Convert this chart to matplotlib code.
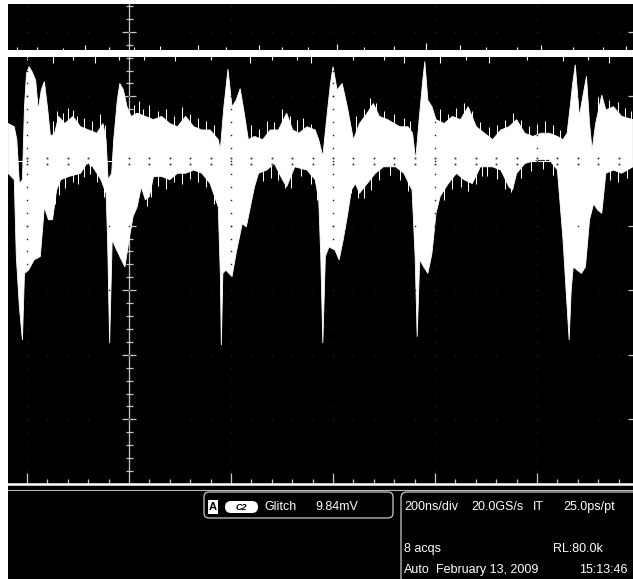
import numpy as np
import matplotlib.pyplot as plt
from matplotlib.patches import Rectangle, FancyBboxPatch

plt.rcParams['font.family'] = ['Liberation Sans', 'DejaVu Sans']

# lower trace: time from trigger (ns), level (divisions from centre)
upper_t = [-237, -225, -220, -215, -209, -205, -201, -196, -190, -183, -178, -172, -166, -160,
           -154, -146, -138, -126, -110, -95, -79, -63, -51, -45, -41, -34, -30, -23, -18, -11,
           -4, 4, 16, 32, 48, 64, 80, 95, 111, 127, 143, 159, 175, 179, 186, 194, 202, 210, 218,
           226, 234, 246, 262, 277, 293, 309, 321, 333, 349, 365, 372, 380, 388, 395, 400, 408,
           418, 428, 440, 452, 467, 479, 491, 507, 531, 547, 556, 562, 570, 576, 580, 586, 594,
           602, 618, 634, 650, 665, 681, 697, 713, 729, 745, 760, 776, 792, 808, 824, 840, 851,
           859, 865, 870, 875, 883, 891, 897, 903, 908, 915, 927, 935, 950, 966, 988]
upper_v = [0.58, 0.53, 0.33, -0.35, -0.29, 0.84, 1.36, 1.46, 1.38, 1.25, 0.79, 1.10, 1.23, 0.84,
           0.38, 0.43, 0.69, 0.58, 0.69, 0.53, 0.48, 0.43, 0.58, 0.33, -0.29, -0.19, 0.33, 0.94,
           1.20, 1.10, 0.84, 0.69, 0.74, 0.69, 0.64, 0.69, 0.58, 0.53, 0.69, 0.53, 0.48, 0.48,
           0.33, 0.17, 0.84, 1.42, 0.84, 0.94, 1.12, 0.74, 0.33, 0.38, 0.33, 0.48, 0.48, 0.74,
           0.48, 0.43, 0.53, 0.48, 0.33, 0.07, 0.69, 1.20, 1.46, 1.10, 1.20, 0.84, 0.33, 0.58,
           0.74, 0.89, 0.69, 0.64, 0.53, 0.53, 0.43, 0.01, 0.74, 1.25, 1.54, 0.94, 0.84, 0.64,
           0.58, 0.69, 0.64, 0.84, 0.53, 0.43, 0.33, 0.48, 0.53, 0.64, 0.43, 0.38, 0.43, 0.43,
           0.38, 0.33, 0.43, 0.84, 1.20, 1.49, 0.69, 1.05, 1.31, 0.58, 0.17, 0.58, 1.02, 0.79,
           0.84, 0.69, 0.64]
lower_t = [-237, -225, -221, -215, -209, -205, -197, -186, -174, -166, -158, -150, -142, -134,
           -118, -95, -83, -71, -55, -45, -42, -38, -33, -27, -15, -8, 0, 8, 16, 24, 32, 40, 48,
           64, 80, 95, 111, 127, 143, 159, 175, 179, 181, 184, 190, 202, 210, 222, 230, 238, 246,
           254, 270, 285, 301, 309, 325, 349, 365, 372, 376, 380, 385, 392, 404, 412, 420, 428,
           436, 444, 452, 467, 483, 499, 523, 539, 555, 561, 565, 570, 578, 586, 594, 602, 610,
           626, 642, 657, 673, 689, 713, 729, 745, 752, 760, 776, 800, 824, 840, 851, 857, 863,
           867, 871, 879, 887, 895, 903, 911, 919, 927, 935, 950, 966, 988]
lower_v = [-0.19, -0.29, -1.48, -2.26, -2.77, -1.74, -1.69, -1.53, -1.48, -0.71, -0.91, -0.91,
           -0.45, -0.29, -0.24, -0.19, -0.04, -0.09, -0.29, -0.50, -1.22, -2.82, -1.22, -1.33,
           -1.53, -1.64, -1.22, -0.86, -0.71, -0.40, -0.60, -0.55, -0.24, -0.24, -0.29, -0.19,
           -0.19, -0.14, -0.19, -0.35, -0.71, -1.74, -2.85, -1.74, -1.69, -1.79, -1.43, -0.97,
           -1.02, -0.71, -0.40, -0.19, -0.14, -0.04, -0.29, -0.40, -0.09, -0.14, -0.29, -0.60,
           -1.48, -2.82, -1.48, -1.33, -1.38, -1.53, -1.22, -0.86, -0.45, -0.35, -0.50, -0.35,
           -0.19, -0.09, -0.09, -0.19, -0.45, -1.48, -2.72, -1.53, -1.64, -1.74, -1.43, -0.81,
           -0.55, -0.35, -0.19, -0.29, -0.35, -0.09, -0.09, -0.14, -0.40, -0.45, -0.19, -0.04,
           0.02, 0.02, -0.14, -1.22, -2.00, -2.77, -2.00, -1.64, -1.69, -1.74, -1.64, -0.91,
           -0.66, -0.76, -0.81, -0.19, -0.14, -0.19, -0.09]
# noise spikes sticking out of the lower trace envelope (tip levels)
noise_up_t = [-150, -142, -130, -120, -110, -102, -88, -72, -57, -48, 10, 20, 28, 40, 56, 72,
              88, 103, 119, 135, 151, 167, 230, 240, 254, 270, 285, 300, 315, 329, 341, 357,
              446, 460, 473, 485, 499, 519, 539, 551, 610, 626, 642, 657, 673, 689, 705, 721,
              737, 752, 768, 784, 800, 816, 832, 845, 920, 942, 958, 972, 984]
noise_up_v = [0.62, 0.78, 0.74, 0.82, 0.79, 0.70, 0.66, 0.62, 0.72, 0.55, 0.86, 0.93, 0.80,
              0.86, 0.77, 0.80, 0.70, 0.83, 0.72, 0.67, 0.62, 0.56, 0.43, 0.55, 0.49, 0.62,
              0.60, 0.80, 0.70, 0.63, 0.66, 0.58, 0.70, 0.80, 0.98, 0.90, 0.78, 0.72, 0.66,
              0.62, 0.80, 0.72, 0.82, 0.90, 0.78, 0.60, 0.52, 0.56, 0.63, 0.75, 0.64, 0.54,
              0.57, 0.62, 0.56, 0.48, 1.00, 0.94, 0.92, 0.82, 0.78]
noise_dn_t = [-145, -138, -126, -110, -100, -89, -77, -63, -50, 36, 44, 56, 72, 88, 103, 119,
              135, 151, 167, 262, 278, 293, 305, 317, 337, 357, 368, 436, 448, 460, 475, 491,
              511, 531, 547, 618, 634, 650, 665, 681, 693, 701, 721, 737, 749, 768, 788, 812,
              832, 943, 958, 977]
noise_dn_v = [-0.66, -0.52, -0.42, -0.33, -0.36, -0.25, -0.20, -0.32, -0.56, -0.70, -0.56,
              -0.38, -0.43, -0.33, -0.35, -0.28, -0.32, -0.40, -0.66, -0.31, -0.26, -0.30,
              -0.42, -0.42, -0.24, -0.36, -0.60, -0.50, -0.58, -0.57, -0.45, -0.30, -0.22,
              -0.30, -0.46, -0.60, -0.44, -0.40, -0.47, -0.36, -0.24, -0.24, -0.28, -0.44,
              -0.48, -0.26, -0.16, -0.12, -0.22, -0.30, -0.33, -0.27]

# upper (flat) trace: band limits and the noise spikes that stick out of it
ref_band = (1.610, 1.718)
ref_up_t = [-220, -180, -130, -87, -40, 10, 60, 135, 190, 254, 300, 350, 408, 460, 520, 582,
            649, 700, 760, 808, 870, 930, 975]
ref_up_v = [1.76, 1.77, 1.75, 1.80, 1.76, 1.77, 1.78, 1.80, 1.76, 1.79, 1.76, 1.77, 1.81, 1.76,
            1.78, 1.82, 1.80, 1.77, 1.76, 1.79, 1.77, 1.76, 1.78]
ref_dn_t = [-200, -150, -110, -67, -20, 30, 90, 160, 238, 280, 330, 357, 440, 500, 539, 610,
            660, 705, 780, 850, 900, 942]
ref_dn_v = [1.56, 1.52, 1.57, 1.51, 1.56, 1.57, 1.55, 1.56, 1.52, 1.56, 1.57, 1.51, 1.56, 1.57,
            1.52, 1.51, 1.56, 1.52, 1.57, 1.55, 1.56, 1.52]

# status bar
trig_text = ['Glitch', '9.84mV']
row1 = ['200ns/div', '20.0GS/s', 'IT', '25.0ps/pt']
row2 = ['8 acqs', 'RL:80.0k']
row3 = ['Auto', 'February 13, 2009', '15:13:46']

W, H = 633, 579
T0, T1 = -237.3, 988.2      # screen edges in ns
V0, V1 = -5.0, 2.43         # screen edges in div
NS_PX = 200 / 102.0
DIV_PX = 1 / 64.6

fig = plt.figure(figsize=(W / 100, H / 100), dpi=100)
fig.patch.set_facecolor('white')
fig.add_artist(Rectangle((8 / W, 0), 1 - 8 / W, 1 - 4 / H, transform=fig.transFigure,
                         facecolor='black', edgecolor='none', zorder=0))

# status bar drawn in pixel space
sb = fig.add_axes([0, 0, 1, 1])
sb.set_xlim(0, W)
sb.set_ylim(H, 0)
sb.axis('off')
sb.plot([8, W], [489.5, 489.5], color='#b4b4b4', lw=0.8)
sb.add_patch(FancyBboxPatch((204, 492), 189, 26, boxstyle='round,pad=0,rounding_size=5',
                            facecolor='none', edgecolor='#c8c8c8', lw=0.9))
sb.add_patch(FancyBboxPatch((401, 492), 260, 120, boxstyle='round,pad=0,rounding_size=6',
                            facecolor='none', edgecolor='#c8c8c8', lw=0.9))
sb.add_patch(Rectangle((208, 500), 10, 14, facecolor='white', edgecolor='none'))
sb.text(213, 507.5, 'A', color='black', fontsize=8, fontweight='bold', ha='center', va='center')
sb.add_patch(FancyBboxPatch((225, 501), 33, 12, boxstyle='round,pad=0,rounding_size=6',
                            facecolor='white', edgecolor='none'))
sb.text(241.5, 507.5, 'C2', color='black', fontsize=6.5, fontweight='bold', style='italic',
        ha='center', va='center')
fs = 9
for txt, x in zip(trig_text, [264, 315]):
    sb.text(x, 507, txt, color='white', fontsize=fs, va='center')
for txt, x in zip(row1, [404, 471, 533, 563]):
    sb.text(x, 507, txt, color='white', fontsize=fs, va='center')
sb.text(404, 549, row2[0], color='white', fontsize=fs, va='center')
sb.text(553, 549, row2[1], color='white', fontsize=fs, va='center')
sb.text(404, 570, row3[0], color='white', fontsize=fs, va='center')
sb.text(436, 570, row3[1], color='white', fontsize=fs, va='center')
sb.text(628, 570, row3[2], color='white', fontsize=fs, va='center', ha='right')

# scope screen
ax = fig.add_axes([8 / W, (H - 484) / H, (W - 8) / W, 480 / H])
ax.set_xlim(T0, T1)
ax.set_ylim(V0, V1)
ax.axis('off')

grat = '#c8c8c8'
ax.axvline(0, color=grat, lw=0.9, zorder=1)
kk = np.arange(-25, 13)
vv = kk * 0.2
half = np.where(kk % 5 == 0, 7, 3.5) * NS_PX
ax.hlines(vv, -half, half, color=grat, lw=0.9, zorder=1)

tt = np.arange(-200, 961, 40)
tt = tt[tt != 0]
tick_h = np.where(tt % 200 == 0, 11, 5) * DIV_PX
ax.vlines(tt, V0, V0 + tick_h, color=grat, lw=0.9, zorder=1)
major_v = [2, 1, -1, -2, -3, -4]
ax.hlines(major_v, T1 - 5 * NS_PX, T1, color=grat, lw=0.9, zorder=1)
ax.axhline(V0, color='white', lw=1.8, zorder=5, clip_on=False)

# traces
ax.fill(np.concatenate([upper_t, lower_t[::-1]]), np.concatenate([upper_v, lower_v[::-1]]),
        facecolor='white', edgecolor='white', lw=0.6, zorder=3)
ax.vlines(noise_up_t, 0, noise_up_v, color='white', lw=0.75, zorder=3)
ax.vlines(noise_dn_t, noise_dn_v, 0, color='white', lw=0.75, zorder=3)
ax.fill_between([T0, T1], ref_band[0], ref_band[1], color='white', lw=0, zorder=3)
ax.vlines(ref_up_t, ref_band[1] - 0.02, ref_up_v, color='white', lw=0.8, zorder=3)
ax.vlines(ref_dn_t, ref_dn_v, ref_band[0] + 0.02, color='white', lw=0.8, zorder=3)
ax.axhline(0, color='white', lw=0.8, zorder=3.5)

# dotted graticule only shows on top of the trace
dot = '#1c1c1c'
v_dots = np.arange(-4.8, 2.41, 0.2)
for t in [-200, 200, 400, 600, 800]:
    ax.plot(np.full(v_dots.size, t), v_dots, ls='none', marker='s', ms=1.0, mew=0, color=dot, zorder=4)
t_dots = np.arange(-200, 981, 40)
for v in major_v:
    ax.plot(t_dots, np.full(t_dots.size, v), ls='none', marker='s', ms=1.0, mew=0, color=dot, zorder=4)
for dv in (-3 * DIV_PX, 3 * DIV_PX):
    ax.plot(t_dots, np.full(t_dots.size, dv), ls='none', marker='s', ms=1.2, mew=0, color=dot, zorder=4)

fig.savefig('out.png', dpi=100, facecolor='white')
